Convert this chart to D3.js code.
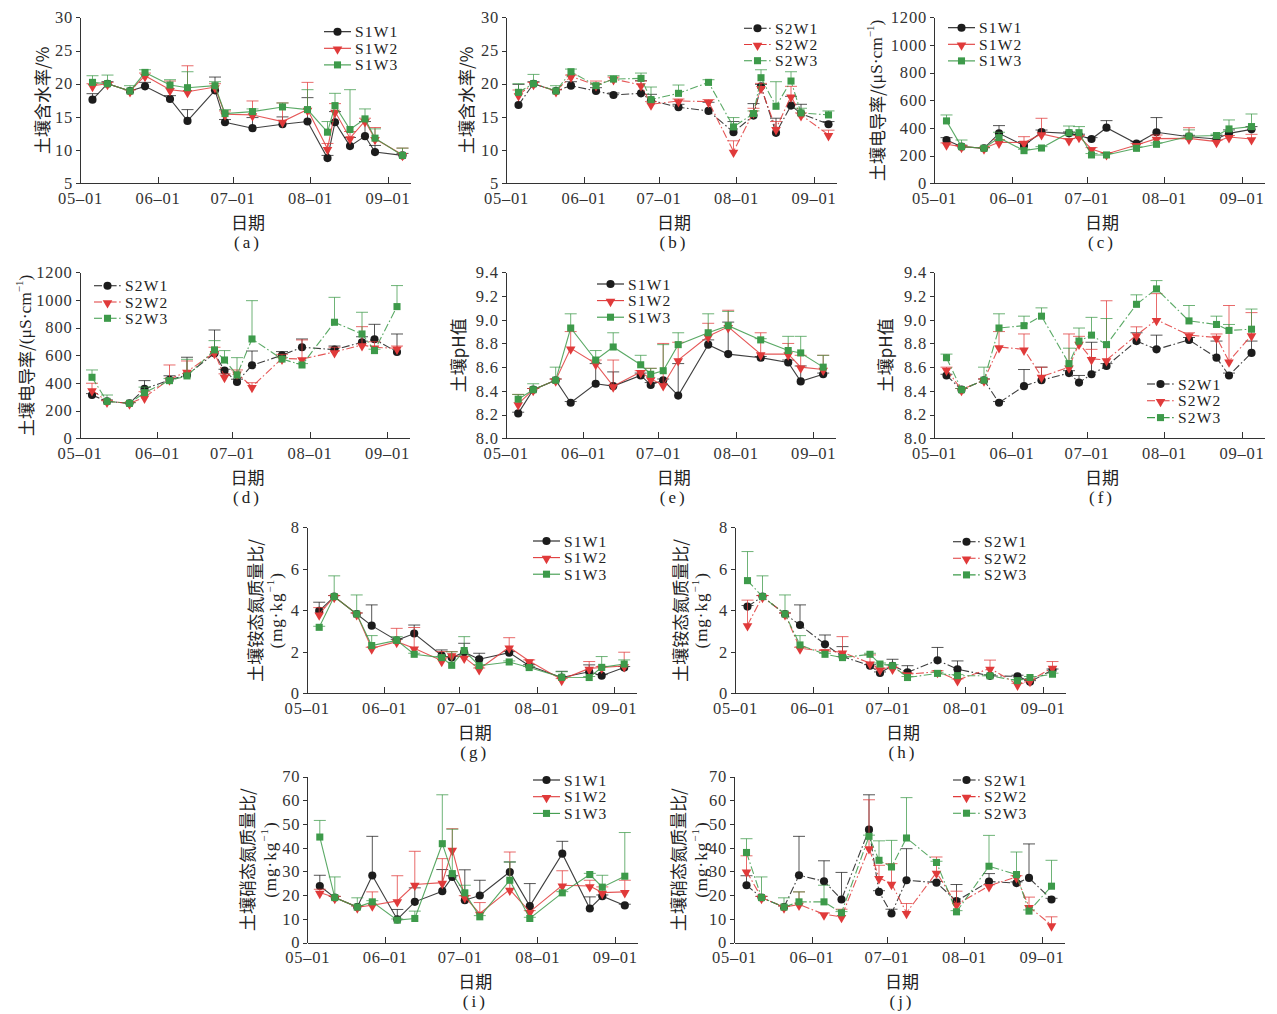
<!DOCTYPE html>
<html>
<head>
<meta charset="utf-8">
<script src="https://cdn.jsdelivr.net/npm/d3@7"></script>
<style>
  body { margin: 0; background: #fff; }
  .axis path, .axis line { stroke: #333; shape-rendering: crispEdges; }
  .axis text { font-family: "Liberation Serif", serif; font-size: 16.5px; fill: #333; letter-spacing: 0.8px; }
</style>
</head>
<body>
<svg id="chart" width="1277" height="1014"></svg>
<script>
// sampling dates: panels a, b use datesA; panels c-j use datesB
const datesA = ["05-06","05-12","05-21","05-27","06-06","06-13","06-24","06-28","07-09","07-21","07-31","08-08","08-11","08-17","08-23","08-27","09-07"];
const datesB = ["05-06","05-12","05-21","05-27","06-06","06-13","06-24","06-28","07-03","07-09","07-21","07-29","08-11","08-22","08-27","09-05"];
const monthTicks = ["05-01","06-01","07-01","08-01","09-01"];

// (a) soil water content, S1
const a_S1W1 = [17.6,20.0,18.9,19.6,17.7,14.4,19.0,14.2,13.3,13.9,14.3,8.8,14.2,10.6,12.1,9.7,9.2];
const a_S1W1_err = [0.9,0.3,0.2,0.6,0.5,1.7,2.0,0.4,1.6,1.1,3.6,0.4,1.6,1.3,2.2,1.0,0.3];
const a_S1W2 = [19.7,20.0,18.9,21.2,19.1,18.8,19.5,15.4,15.3,14.3,16.1,10.2,15.8,11.8,14.4,11.7,9.3];
const a_S1W2_err = [0.3,0.2,0.2,0.4,1.3,3.9,0.5,0.5,2.1,2.8,4.1,0.8,1.2,1.0,0.4,1.7,1.0];
const a_S1W3 = [20.2,20.0,18.9,21.7,19.8,19.4,19.7,15.5,15.8,16.5,16.1,12.7,16.7,13.1,14.7,11.8,9.2];
const a_S1W3_err = [1.0,1.3,0.8,0.4,0.8,2.4,0.6,0.6,0.4,0.6,3.0,1.6,1.85,6.0,1.5,1.4,1.1];

// (b) soil water content, S2
const b_S2W1 = [16.8,20.0,18.9,19.7,18.9,18.3,18.55,17.5,16.45,15.9,12.7,15.2,19.6,12.6,16.7,15.5,13.9];
const b_S2W1_err = [3.1,0.3,0.2,0.6,0.5,0.3,1.9,0.9,0.45,1.3,1.6,1.8,0.3,2.2,1.4,1.4,0.4];
const b_S2W2 = [18.3,20.0,18.9,21.1,19.8,20.7,19.8,16.9,17.4,17.3,9.8,15.7,19.4,13.2,18.1,15.3,12.3];
const b_S2W2_err = [0.75,0.2,0.2,0.2,0.6,0.3,0.6,0.4,0.3,0.3,1.6,0.6,0.65,1.1,1.5,0.3,0.7];
const b_S2W3 = [18.7,20.0,18.9,21.8,19.7,20.7,20.8,17.6,18.55,20.2,13.5,15.5,20.9,16.6,20.4,15.6,15.3];
const b_S2W3_err = [1.3,1.4,0.8,0.4,0.2,0.5,0.8,1.9,1.25,0.4,1.4,0.4,1.2,3.7,1.4,0.7,0.6];

// (c) electrical conductivity, S1
const c_S1W1 = [313,265,253,361,272,371,361,345,320,402,287,369,337,320,361,390];
const c_S1W1_err = [17,10,5,56,29,14,10,10,10,51,14,106,10,25,25,20];
const c_S1W2 = [282,265,253,296,294,357,313,337,248,212,277,323,325,301,335,320];
const c_S1W2_err = [10,5,5,20,43,113,10,8,10,10,10,26,77,10,10,34];
const c_S1W3 = [451,265,253,330,236,255,366,366,205,205,253,282,340,345,393,410];
const c_S1W3_err = [43,48,5,39,10,10,48,44,10,10,10,10,46,10,65,91];

// (d) electrical conductivity, S2
const d_S2W1 = [313,267,253,357,422,458,614,489,407,528,600,658,641,694,716,624];
const d_S2W1_err = [10,10,5,60,30,128,169,10,20,103,27,60,26,40,108,130];
const d_S2W2 = [349,267,253,296,427,482,619,446,470,373,578,573,624,675,658,650];
const d_S2W2_err = [49,5,5,41,103,77,39,20,24,29,29,138,34,132,40,17];
const d_S2W3 = [441,267,253,330,417,451,639,566,458,718,573,530,839,754,634,952];
const d_S2W3_err = [53,46,5,40,15,120,67,68,125,277,10,10,180,157,10,152];

// (e) pH, S1
const e_S1W1 = [8.21,8.41,8.49,8.30,8.46,8.44,8.53,8.45,8.49,8.36,8.79,8.71,8.68,8.64,8.48,8.54];
const e_S1W1_err = [0.01,0.01,0.01,0.01,0.17,0.12,0.02,0.02,0.01,0.27,0.04,0.27,0.01,0.02,0.13,0.01];
const e_S1W2 = [8.29,8.41,8.49,8.76,8.63,8.44,8.56,8.50,8.45,8.66,8.86,8.94,8.71,8.71,8.60,8.58];
const e_S1W2_err = [0.08,0.01,0.01,0.14,0.03,0.22,0.01,0.09,0.35,0.15,0.11,0.14,0.18,0.09,0.10,0.12];
const e_S1W3 = [8.33,8.41,8.49,8.93,8.66,8.77,8.62,8.54,8.57,8.79,8.89,8.95,8.83,8.74,8.72,8.60];
const e_S1W3_err = [0.04,0.05,0.11,0.12,0.08,0.12,0.08,0.05,0.22,0.10,0.16,0.12,0.01,0.12,0.14,0.10];

// (f) pH, S2
const f_S2W1 = [8.53,8.41,8.49,8.30,8.44,8.49,8.55,8.47,8.54,8.61,8.82,8.75,8.83,8.68,8.53,8.72];
const f_S2W1_err = [0.01,0.01,0.01,0.01,0.14,0.11,0.02,0.06,0.27,0.02,0.07,0.12,0.02,0.14,0.02,0.10];
const f_S2W2 = [8.58,8.41,8.49,8.77,8.75,8.52,8.60,8.80,8.67,8.66,8.87,9.00,8.87,8.85,8.65,8.87];
const f_S2W2_err = [0.02,0.01,0.01,0.13,0.13,0.08,0.28,0.06,0.08,0.50,0.07,0.22,0.02,0.03,0.47,0.19];
const f_S2W3 = [8.68,8.41,8.49,8.93,8.95,9.03,8.63,8.82,8.87,8.79,9.13,9.26,8.99,8.96,8.91,8.92];
const f_S2W3_err = [0.03,0.01,0.11,0.12,0.08,0.07,0.13,0.11,0.15,0.22,0.08,0.07,0.13,0.07,0.05,0.17];

// (g) ammonium N, S1
const g_S1W1 = [3.97,4.66,3.82,3.26,2.55,2.88,1.82,1.72,1.98,1.64,1.96,1.33,0.76,1.04,0.85,1.24];
const g_S1W1_err = [0.42,0.05,0.05,1.0,0.05,0.41,0.27,0.05,0.43,0.29,0.05,0.05,0.3,0.33,0.05,0.05];
const g_S1W2 = [3.81,4.66,3.82,2.17,2.49,2.17,1.57,1.85,1.73,1.17,2.22,1.56,0.66,1.20,1.24,1.32];
const g_S1W2_err = [0.32,0.05,0.05,0.05,0.64,1.0,0.44,0.16,0.05,0.05,0.46,0.05,0.05,0.33,0.05,0.66];
const g_S1W3 = [3.18,4.66,3.82,2.30,2.55,1.88,1.72,1.35,2.06,1.33,1.51,1.24,0.77,0.76,1.25,1.41];
const g_S1W3_err = [0.05,1.0,0.92,0.48,0.18,0.05,0.05,0.65,0.67,0.05,0.05,0.05,0.27,0.05,0.52,0.2];

// (h) ammonium N, S2
const h_S2W1 = [4.18,4.66,3.82,3.29,2.36,1.77,1.33,0.98,1.33,1.01,1.59,1.16,0.84,0.82,0.56,1.12];
const h_S2W1_err = [0.05,0.05,0.05,0.97,0.45,0.48,0.05,0.05,0.31,0.32,0.62,0.4,0.05,0.05,0.05,0.05];
const h_S2W2 = [3.29,4.66,3.82,2.17,2.04,1.98,1.45,1.16,1.20,0.92,1.04,0.64,1.20,0.43,0.61,1.24];
const h_S2W2_err = [1.2,0.05,0.05,0.05,0.05,0.75,0.4,0.05,0.05,0.05,0.05,0.05,0.4,0.05,0.05,0.29];
const h_S2W3 = [5.43,4.66,3.82,2.33,1.88,1.72,1.88,1.41,1.33,0.76,0.96,0.85,0.84,0.61,0.76,0.92];
const h_S2W3_err = [1.4,1.0,0.92,0.45,0.05,0.05,0.05,0.05,0.05,0.05,0.05,0.05,0.05,0.05,0.05,0.05];

// (i) nitrate N, S1
const i_S1W1 = [23.9,19.0,15.0,28.3,9.8,17.2,21.7,27.7,17.9,19.9,29.8,15.4,37.5,14.4,19.6,15.7];
const i_S1W1_err = [4.5,0.5,0.5,16.5,4.2,5.9,9.1,0.5,12.8,6.4,4.2,9.5,5.2,4.9,0.5,0.5];
const i_S1W2 = [21.1,19.0,15.0,15.8,17.6,24.5,25.3,39.2,19.3,12.3,22.4,13.0,24.2,23.9,21.1,21.4];
const i_S1W2_err = [1.4,0.5,0.5,5.6,10.6,14.0,10.1,8.8,0.5,4.6,15.8,0.5,6.1,2.4,2.4,4.9];
const i_S1W3 = [44.5,19.0,15.0,17.2,9.5,10.2,41.7,29.1,21.0,10.9,26.3,10.2,21.0,28.7,23.4,28.0];
const i_S1W3_err = [7.0,8.7,3.9,0.5,0.5,3.1,20.6,18.7,3.2,0.5,7.7,0.5,0.5,0.5,5.0,18.4];

// (j) nitrate N, S2
const j_S2W1 = [24.2,19.0,15.0,28.4,25.9,18.2,47.6,21.4,12.3,26.3,25.3,17.5,25.8,25.1,27.3,18.2];
const j_S2W1_err = [4.0,0.5,0.5,16.4,8.6,11.4,14.7,0.5,1.8,13.3,0.5,7.0,3.3,0.5,14.3,0.5];
const j_S2W2 = [30.1,19.0,15.0,16.1,12.0,10.9,39.9,27.3,24.9,12.6,29.6,16.1,23.9,27.7,15.1,7.4];
const j_S2W2_err = [6.5,0.5,0.5,5.3,0.5,3.2,20.3,5.3,8.4,3.9,6.5,5.6,0.5,0.5,4.1,3.5];
const j_S2W3 = [38.0,19.0,15.0,17.2,17.2,12.6,44.8,34.7,31.9,44.1,33.8,13.0,32.2,28.7,13.3,23.8];
const j_S2W3_err = [5.8,8.7,3.9,4.2,7.0,0.5,0.5,8.2,11.2,17.0,0.5,0.5,13.0,9.5,0.5,10.9];

const seriesColors = ["#1c1c1c", "#e03a3a", "#3d9a4a"];
const seriesShapes = ["circle", "triangle", "square"];

// y titles: [CJK part, latin part, superscript, closing]
const waterLabel = ["土壤含水率/%"];
const ecLabel = ["土壤电导率/", "(μS·cm", "−1", ")"];
const phLabel = ["土壤pH值"];

// ---------------------------------------------------------------------------

const svg = d3.select("#chart");
const parseDay = d3.timeParse("%Y-%m-%d");
const day = s => parseDay("2020-" + s);
const xDomain = [day("05-01"), day("09-10")];
const plotW = 330;
const cjk = "'Noto Sans CJK SC', sans-serif";
const serif = "'Liberation Serif', serif";

const panels = [
  { id: "a", x0: 80,    y0: 17.3,  y1: 183.3, dom: [5, 30],    step: 5,   fmt: d3.format("d"),   dates: datesA, group: "S1",
    vals: [a_S1W1, a_S1W2, a_S1W3], errs: [a_S1W1_err, a_S1W2_err, a_S1W3_err],
    ylab: waterLabel, ylx: [41], leg: [324, 31.7, 16.6] },
  { id: "b", x0: 506,   y0: 17.3,  y1: 183.3, dom: [5, 30],    step: 5,   fmt: d3.format("d"),   dates: datesA, group: "S2",
    vals: [b_S2W1, b_S2W2, b_S2W3], errs: [b_S2W1_err, b_S2W2_err, b_S2W3_err],
    ylab: waterLabel, ylx: [465], leg: [744, 28.3, 16.2] },
  { id: "c", x0: 934,   y0: 17.3,  y1: 183.3, dom: [0, 1200],  step: 200, fmt: d3.format("d"),   dates: datesB, group: "S1",
    vals: [c_S1W1, c_S1W2, c_S1W3], errs: [c_S1W1_err, c_S1W2_err, c_S1W3_err],
    ylab: ecLabel, ylx: [876], leg: [948, 27.7, 16.6] },
  { id: "d", x0: 79.5,  y0: 272.3, y1: 438.3, dom: [0, 1200],  step: 200, fmt: d3.format("d"),   dates: datesB, group: "S2",
    vals: [d_S2W1, d_S2W2, d_S2W3], errs: [d_S2W1_err, d_S2W2_err, d_S2W3_err],
    ylab: ecLabel, ylx: [25], leg: [94, 285.7, 16.3] },
  { id: "e", x0: 505.7, y0: 272.3, y1: 438.3, dom: [8.0, 9.4], step: 0.2, fmt: d3.format(".1f"), dates: datesB, group: "S1",
    vals: [e_S1W1, e_S1W2, e_S1W3], errs: [e_S1W1_err, e_S1W2_err, e_S1W3_err],
    ylab: phLabel, ylx: [457], leg: [597, 284, 16.6] },
  { id: "f", x0: 934,   y0: 272.3, y1: 438.3, dom: [8.0, 9.4], step: 0.2, fmt: d3.format(".1f"), dates: datesB, group: "S2",
    vals: [f_S2W1, f_S2W2, f_S2W3], errs: [f_S2W1_err, f_S2W2_err, f_S2W3_err],
    ylab: phLabel, ylx: [884], leg: [1147, 384, 16.8] },
  { id: "g", x0: 306.7, y0: 527.3, y1: 693.3, dom: [0, 8],     step: 2,   fmt: d3.format("d"),   dates: datesB, group: "S1",
    vals: [g_S1W1, g_S1W2, g_S1W3], errs: [g_S1W1_err, g_S1W2_err, g_S1W3_err],
    ylab: ["土壤铵态氮质量比/"], ylx: [254, 276], leg: [533, 541, 16.6] },
  { id: "h", x0: 735,   y0: 527.3, y1: 693.3, dom: [0, 8],     step: 2,   fmt: d3.format("d"),   dates: datesB, group: "S2",
    vals: [h_S2W1, h_S2W2, h_S2W3], errs: [h_S2W1_err, h_S2W2_err, h_S2W3_err],
    ylab: ["土壤铵态氮质量比/"], ylx: [679, 701], leg: [953, 541.7, 16.6] },
  { id: "i", x0: 307.3, y0: 776.5, y1: 942.7, dom: [0, 70],    step: 10,  fmt: d3.format("d"),   dates: datesB, group: "S1",
    vals: [i_S1W1, i_S1W2, i_S1W3], errs: [i_S1W1_err, i_S1W2_err, i_S1W3_err],
    ylab: ["土壤硝态氮质量比/"], ylx: [246, 270], leg: [533, 780, 16.7] },
  { id: "j", x0: 734,   y0: 776.5, y1: 942.7, dom: [0, 70],    step: 10,  fmt: d3.format("d"),   dates: datesB, group: "S2",
    vals: [j_S2W1, j_S2W2, j_S2W3], errs: [j_S2W1_err, j_S2W2_err, j_S2W3_err],
    ylab: ["土壤硝态氮质量比/"], ylx: [677, 701], leg: [953, 780, 16.6] }
];

function symbolPath(shape) {
  if (shape === "circle") return d3.symbol(d3.symbolCircle, 52)();
  if (shape === "square") return d3.symbol(d3.symbolSquare, 50)();
  return d3.symbol(d3.symbolTriangle, 40)();
}

function addMarker(sel, shape, color, cx, cy) {
  sel.append("path")
    .attr("d", symbolPath(shape))
    .attr("transform", `translate(${cx},${cy})` + (shape === "triangle" ? " rotate(180) translate(0,-1)" : ""))
    .attr("fill", color);
}

function drawPanel(p) {
  const g = svg.append("g").attr("class", "panel-" + p.id);
  const x = d3.scaleTime().domain(xDomain).range([p.x0, p.x0 + plotW]);
  const y = d3.scaleLinear().domain(p.dom).range([p.y1, p.y0]);
  const dash = p.group === "S2" ? "8,2.5,1.6,2.5" : null;

  // axes
  g.append("g").attr("class", "axis")
    .attr("transform", `translate(0,${p.y1})`)
    .call(d3.axisBottom(x)
      .tickValues(monthTicks.map(day))
      .tickFormat(d => d3.timeFormat("%m-%d")(d).replace("-", "–"))
      .tickSizeInner(-6).tickSizeOuter(0).tickPadding(9));

  const yTicks = d3.range(p.dom[0], p.dom[1] + p.step / 2, p.step);
  g.append("g").attr("class", "axis")
    .attr("transform", `translate(${p.x0},0)`)
    .call(d3.axisLeft(y).tickValues(yTicks).tickFormat(p.fmt)
      .tickSizeInner(4).tickSizeOuter(0).tickPadding(3));

  // series: error bars, lines, markers
  p.vals.forEach((vals, k) => {
    const color = seriesColors[k];
    const pts = p.dates.map((d, i) => ({ t: day(d), v: vals[i], e: p.errs[k][i] }));
    const sg = g.append("g");

    const eb = sg.append("g").attr("stroke", color).attr("stroke-opacity", 0.75).attr("stroke-width", 1);
    pts.forEach(d => {
      const px = x(d.t), py0 = y(d.v), py1 = y(d.v + d.e);
      eb.append("line").attr("x1", px).attr("x2", px).attr("y1", py0).attr("y2", py1);
      eb.append("line").attr("x1", px - 6).attr("x2", px + 6).attr("y1", py1).attr("y2", py1);
    });

    sg.append("path")
      .datum(pts)
      .attr("fill", "none")
      .attr("stroke", color)
      .attr("stroke-opacity", 0.85)
      .attr("stroke-width", 1.1)
      .attr("stroke-dasharray", dash)
      .attr("d", d3.line().x(d => x(d.t)).y(d => y(d.v)));

    pts.forEach(d => addMarker(sg, seriesShapes[k], color, x(d.t), y(d.v)));
  });

  // legend
  const [lx, ly, lstep] = p.leg;
  const lg = g.append("g");
  ["W1", "W2", "W3"].forEach((w, k) => {
    const ry = ly + k * lstep;
    lg.append("line")
      .attr("x1", lx).attr("x2", lx + 27).attr("y1", ry).attr("y2", ry)
      .attr("stroke", seriesColors[k]).attr("stroke-width", 1.1)
      .attr("stroke-dasharray", dash);
    addMarker(lg, seriesShapes[k], seriesColors[k], lx + 13.5, ry);
    lg.append("text")
      .attr("x", lx + 31).attr("y", ry)
      .attr("dominant-baseline", "central")
      .style("font-family", serif)
      .style("font-size", "15.5px")
      .style("letter-spacing", "1.2px")
      .attr("fill", "#222")
      .text(p.group + w);
  });

  // x title and panel tag
  const cx = p.x0 + plotW / 2 + 3;
  g.append("text")
    .attr("x", cx).attr("y", p.y1 + 38)
    .attr("text-anchor", "middle").attr("dominant-baseline", "central")
    .style("font-family", cjk).style("font-size", "17px")
    .attr("fill", "#222")
    .text("日期");
  g.append("text")
    .attr("x", cx).attr("y", p.y1 + 59)
    .attr("text-anchor", "middle").attr("dominant-baseline", "central")
    .style("font-family", serif).style("font-size", "17px")
    .style("letter-spacing", "3px")
    .attr("fill", "#222")
    .text("(" + p.id + ")");

  // y title (rotated)
  const cy = (p.y0 + p.y1) / 2;
  const t1 = g.append("text")
    .attr("transform", `translate(${p.ylx[0]},${cy}) rotate(-90)`)
    .attr("text-anchor", "middle").attr("dominant-baseline", "central")
    .style("font-family", cjk).style("font-size", "17px")
    .attr("fill", "#222");
  t1.append("tspan").text(p.ylab[0]);
  if (p.ylab.length === 4) {
    t1.append("tspan").style("font-family", serif).style("font-size", "17.5px").text(p.ylab[1]);
    t1.append("tspan").attr("dy", -6).style("font-family", serif).style("font-size", "11px").text(p.ylab[2]);
    t1.append("tspan").attr("dy", 6).style("font-family", serif).style("font-size", "17.5px").text(p.ylab[3]);
  }
  if (p.ylx.length > 1) {
    const t2 = g.append("text")
      .attr("transform", `translate(${p.ylx[1]},${cy}) rotate(-90)`)
      .attr("text-anchor", "middle").attr("dominant-baseline", "central")
      .style("font-family", serif).style("font-size", "17px")
      .style("letter-spacing", "1px")
      .attr("fill", "#222");
    t2.append("tspan").text("(mg·kg");
    t2.append("tspan").attr("dy", -6).style("font-size", "11px").text("−1");
    t2.append("tspan").attr("dy", 6).text(")");
  }
}

panels.forEach(drawPanel);
</script>
</body>
</html>
